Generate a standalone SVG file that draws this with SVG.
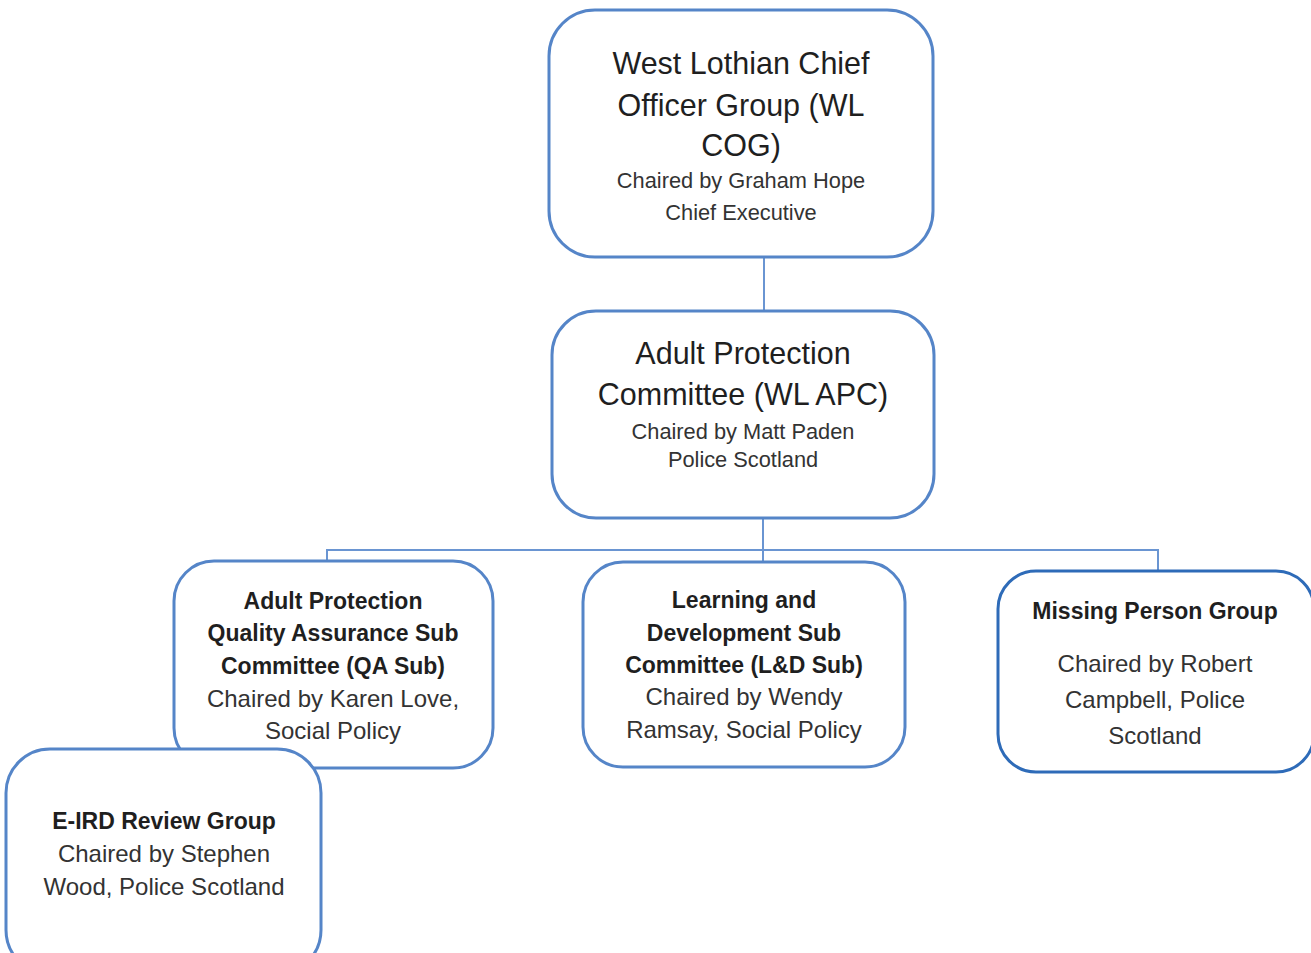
<svg xmlns="http://www.w3.org/2000/svg" width="1311" height="953" viewBox="0 0 1311 953">
  <style>
    .box { fill: #ffffff; stroke: #5585c8; stroke-width: 3; }
    .box-dark { fill: #ffffff; stroke: #2e6bb8; stroke-width: 3; }
    .link { fill: none; stroke: #6a95d2; stroke-width: 2; }
    text { font-family: "Liberation Sans", Arial, sans-serif; text-anchor: middle; fill: #1f1f1f; }
    .t1 { font-size: 30.5px; }
    .t2 { font-size: 21.8px; fill: #333333; }
    .tb { font-size: 23px; font-weight: bold; }
    .tn { font-size: 24px; fill: #333333; }
  </style>

  <!-- connectors -->
  <g id="connectors">
    <line class="link" x1="764" y1="257" x2="764" y2="311"/>
    <line class="link" x1="763" y1="518" x2="763" y2="562"/>
    <polyline class="link" points="327,561 327,550 1158,550 1158,571"/>
  </g>

  <!-- top level -->
  <g id="node-cog">
    <rect class="box" x="549" y="10" width="384" height="247" rx="46"/>
    <text class="t1" x="741" y="74">West Lothian Chief</text>
    <text class="t1" x="741" y="116">Officer Group (WL</text>
    <text class="t1" x="741" y="156">COG)</text>
    <text class="t2" x="741" y="188">Chaired by Graham Hope</text>
    <text class="t2" x="741" y="220">Chief Executive</text>
  </g>

  <g id="node-apc">
    <rect class="box" x="552" y="311" width="382" height="207" rx="44"/>
    <text class="t1" x="743" y="364">Adult Protection</text>
    <text class="t1" x="743" y="405">Committee (WL APC)</text>
    <text class="t2" x="743" y="439">Chaired by Matt Paden</text>
    <text class="t2" x="743" y="467">Police Scotland</text>
  </g>

  <!-- sub-committees -->
  <g id="node-qa">
    <rect class="box" x="174" y="561" width="319" height="207" rx="40"/>
    <text class="tb" x="333" y="609">Adult Protection</text>
    <text class="tb" x="333" y="641">Quality Assurance Sub</text>
    <text class="tb" x="333" y="674">Committee (QA Sub)</text>
    <text class="tn" x="333" y="707">Chaired by Karen Love,</text>
    <text class="tn" x="333" y="739">Social Policy</text>
  </g>

  <g id="node-ld">
    <rect class="box" x="583" y="562" width="322" height="205" rx="40"/>
    <text class="tb" x="744" y="608">Learning and</text>
    <text class="tb" x="744" y="641">Development Sub</text>
    <text class="tb" x="744" y="673">Committee (L&amp;D Sub)</text>
    <text class="tn" x="744" y="705">Chaired by Wendy</text>
    <text class="tn" x="744" y="738">Ramsay, Social Policy</text>
  </g>

  <g id="node-missing">
    <rect class="box-dark" x="998" y="571" width="316" height="201" rx="38"/>
    <text class="tb" x="1155" y="619">Missing Person Group</text>
    <text class="tn" x="1155" y="672">Chaired by Robert</text>
    <text class="tn" x="1155" y="708">Campbell, Police</text>
    <text class="tn" x="1155" y="744">Scotland</text>
  </g>

  <g id="node-eird">
    <rect class="box" x="6" y="749" width="315" height="225" rx="44"/>
    <text class="tb" x="164" y="829">E-IRD Review Group</text>
    <text class="tn" x="164" y="862">Chaired by Stephen</text>
    <text class="tn" x="164" y="895">Wood, Police Scotland</text>
  </g>
</svg>
